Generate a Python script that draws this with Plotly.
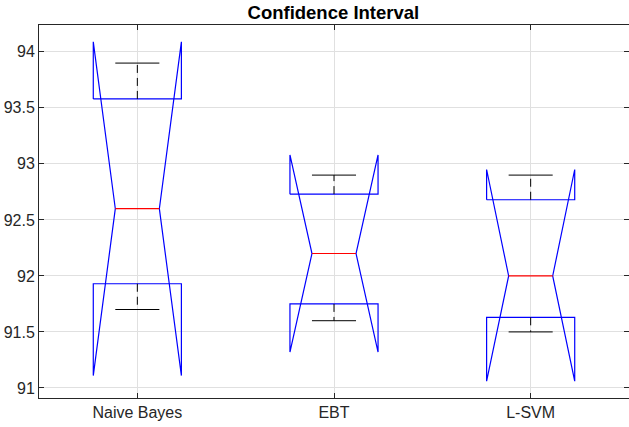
import plotly.graph_objects as go

categories = ["Naive Bayes", "EBT", "L-SVM"]
q1 = [91.93, 91.75, 91.63]
median = [92.60, 92.20, 92.00]
q3 = [93.58, 92.73, 92.68]
whisker_lo = [91.70, 91.60, 91.50]
whisker_hi = [93.90, 92.90, 92.90]
notch_lo = [91.11, 91.32, 91.06]
notch_hi = [94.09, 93.08, 92.95]

box_w = 0.224  # half width of box
blue = "#0000ff"

fig = go.Figure()
for i, name in enumerate(categories):
    c = i + 1
    # notched box outline (matlab style, notch can go past the quartiles)
    xs = [c - box_w, c - box_w, c - box_w / 2, c - box_w, c - box_w,
          c + box_w, c + box_w, c + box_w / 2, c + box_w, c + box_w, c - box_w]
    ys = [q3[i], notch_hi[i], median[i], notch_lo[i], q1[i],
          q1[i], notch_lo[i], median[i], notch_hi[i], q3[i], q3[i]]
    fig.add_trace(go.Scatter(x=xs, y=ys, mode="lines",
                             line=dict(color=blue, width=1.2), hoverinfo="skip"))
    # median
    fig.add_trace(go.Scatter(x=[c - box_w / 2, c + box_w / 2], y=[median[i], median[i]],
                             mode="lines", line=dict(color="#ff0000", width=1.2)))
    # whiskers
    fig.add_trace(go.Scatter(x=[c, c, None, c, c],
                             y=[q3[i], whisker_hi[i], None, q1[i], whisker_lo[i]],
                             mode="lines", line=dict(color="black", width=1, dash="8px,5px")))
    fig.add_trace(go.Scatter(x=[c - box_w / 2, c + box_w / 2, None, c - box_w / 2, c + box_w / 2],
                             y=[whisker_hi[i], whisker_hi[i], None, whisker_lo[i], whisker_lo[i]],
                             mode="lines", line=dict(color="black", width=1)))

axis_style = dict(showline=True, mirror="ticks", linecolor="#262626", linewidth=1,
                  ticks="inside", ticklen=5, tickcolor="#262626",
                  showgrid=True, gridcolor="#e0e0e0", gridwidth=1, zeroline=False,
                  tickfont=dict(family="Liberation Sans, Arial", size=16, color="#262626"))

fig.update_layout(
    width=629, height=427,
    margin=dict(l=39, r=0, t=25, b=29, autoexpand=False),
    paper_bgcolor="white", plot_bgcolor="white",
    showlegend=False,
    title=dict(text="<b>Confidence Interval</b>", x=0.53, xanchor="center", y=0.97, yanchor="middle",
               font=dict(family="Liberation Sans, Arial", size=18.5, color="black")),
    xaxis=dict(range=[0.5, 3.5], tickvals=[1, 2, 3], ticktext=categories, automargin=False, **axis_style),
    yaxis=dict(range=[90.91, 94.24], tickvals=[91, 91.5, 92, 92.5, 93, 93.5, 94],
               ticktext=["91", "91.5", "92", "92.5", "93", "93.5", "94"], automargin=False, **axis_style),
)

# drop the default page margin so the figure sits at the window corner
fig.write_html("out.html", config={"displayModeBar": False},
               post_script="document.body.style.margin='0';document.body.style.overflow='hidden';")
